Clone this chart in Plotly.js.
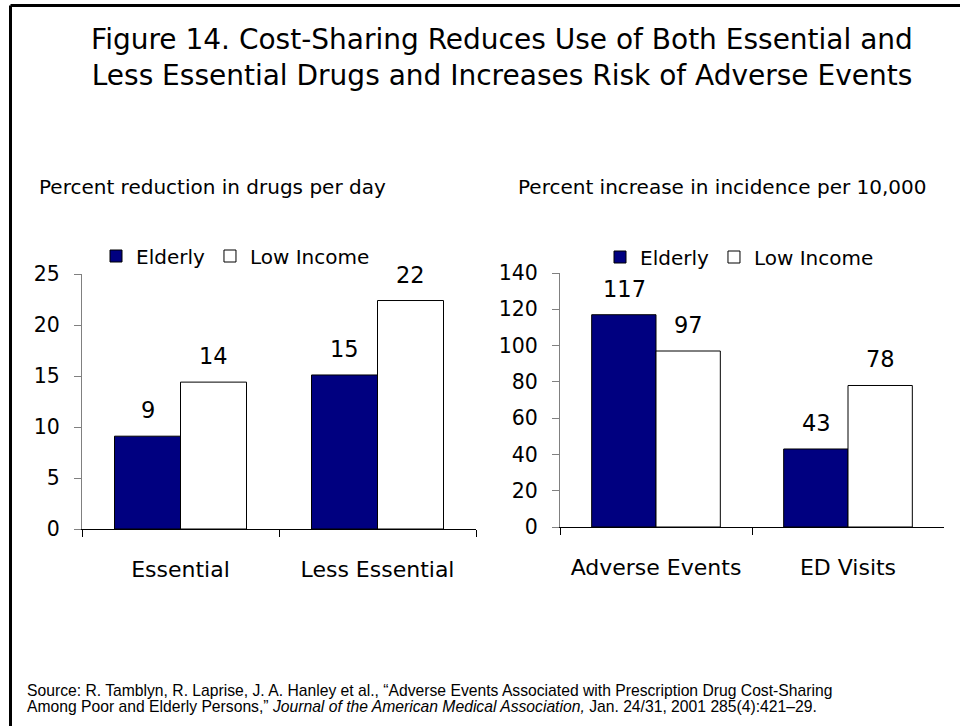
<!DOCTYPE html>
<html>
<head>
<meta charset="utf-8">
<script src="https://cdn.plot.ly/plotly-3.0.1.min.js"></script>
<style>
  html, body { margin: 0; padding: 0; background: #fff; }
  #chart { width: 960px; height: 726px; }
</style>
</head>
<body>
<div id="chart"></div>
<script>
// ---- data ----
const drugCategories = ["Essential", "Less Essential"];
const drugElderly = [9.1, 15.1];
const drugLowIncome = [14.4, 22.4];

const eventCategories = ["Adverse Events", "ED Visits"];
const eventElderly = [117, 43];
const eventLowIncome = [97, 78];

const seriesNames = ["Elderly", "Low Income"];
const titleText = "Figure 14. Cost-Sharing Reduces Use of Both Essential and<br>Less Essential Drugs and Increases Risk of Adverse Events";
const leftSubtitle = "Percent reduction in drugs per day";
const rightSubtitle = "Percent increase in incidence per 10,000";
const sourceLine1 = "Source: R. Tamblyn, R. Laprise, J. A. Hanley et al., \u201cAdverse Events Associated with Prescription Drug Cost-Sharing";
const sourceLine2 = "Among Poor and Elderly Persons,\u201d <i>Journal of the American Medical Association,</i> Jan. 24/31, 2001 285(4):421\u201329.";

// ---- styles ----
const FONT = "DejaVu Sans, Verdana, sans-serif";
const NAVY = "#000080";
const TXT = "#000000";
const AXC = "#808080";

function barTrace(name, cats, vals, color, xa, ya, legendId) {
  return {
    type: "bar", name: name, x: cats, y: vals,
    xaxis: xa, yaxis: ya, legend: legendId, showlegend: true,
    marker: { color: color, line: { color: "#000", width: 1 } },
    hoverinfo: "x+y"
  };
}

const traces = [
  barTrace(seriesNames[0], drugCategories, drugElderly, NAVY, "x", "y", "legend"),
  barTrace(seriesNames[1], drugCategories, drugLowIncome, "#ffffff", "x", "y", "legend"),
  barTrace(seriesNames[0], eventCategories, eventElderly, NAVY, "x2", "y2", "legend2"),
  barTrace(seriesNames[1], eventCategories, eventLowIncome, "#ffffff", "x2", "y2", "legend2")
];

// value labels as annotations positioned through the axes
const annotations = [];
function addLabels(cats, vals, xa, ya, shift) {
  cats.forEach((c, i) => {
    annotations.push({
      x: c, y: vals[i], xref: xa, yref: ya,
      text: String(Math.round(vals[i])), showarrow: false,
      xshift: shift, yshift: 26, yanchor: "middle",
      font: { family: FONT, size: 22.5, color: TXT }
    });
  });
}
addLabels(drugCategories, drugElderly, "x", "y", -33);
addLabels(drugCategories, drugLowIncome, "x", "y", 33);
addLabels(eventCategories, eventElderly, "x2", "y2", -32);
addLabels(eventCategories, eventLowIncome, "x2", "y2", 32);

annotations.push({
  x: 212 / 960, y: 1 - 187 / 726, xref: "paper", yref: "paper",
  text: leftSubtitle, showarrow: false, xanchor: "center", yanchor: "middle",
  font: { family: FONT, size: 20, color: TXT }
});
annotations.push({
  x: 722 / 960, y: 1 - 187 / 726, xref: "paper", yref: "paper",
  text: rightSubtitle, showarrow: false, xanchor: "center", yanchor: "middle",
  font: { family: FONT, size: 20, color: TXT }
});
[sourceLine1, sourceLine2].forEach((t, i) => {
  annotations.push({
    x: 25 / 960, y: 1 - (690 + 16 * i) / 726, xref: "paper", yref: "paper",
    text: t, showarrow: false, xanchor: "left", yanchor: "middle", align: "left",
    font: { family: "Liberation Sans, Arial, sans-serif", size: 15.7, color: TXT }
  });
});

const yAxisCommon = {
  showgrid: false, zeroline: false, showline: true, linecolor: AXC, linewidth: 1,
  ticks: "outside", ticklen: 7, tickcolor: AXC, ticklabelstandoff: 10,
  tickfont: { family: FONT, size: 20.5, color: TXT }, fixedrange: true
};
const xAxisCommon = {
  showgrid: false, zeroline: false, showline: true, linecolor: "#000", linewidth: 1,
  ticks: "outside", tickson: "boundaries", ticklen: 7, tickcolor: "#000",
  ticklabelstandoff: 21,
  tickfont: { family: FONT, size: 22, color: TXT }, fixedrange: true
};

const layout = {
  width: 960, height: 726,
  margin: { l: 0, r: 0, t: 0, b: 0 },
  paper_bgcolor: "#fff", plot_bgcolor: "rgba(0,0,0,0)",
  barmode: "group", bargap: 0.33, bargroupgap: 0,
  title: {
    text: titleText, x: 502 / 960, xanchor: "center", y: 1 - 49 / 726, yanchor: "top",
    font: { family: FONT, size: 28, color: TXT }
  },
  xaxis: Object.assign({}, xAxisCommon, { domain: [82 / 960, 476 / 960], anchor: "y" }),
  yaxis: Object.assign({}, yAxisCommon, { domain: [(726 - 529) / 726, (726 - 274) / 726], range: [0, 25], dtick: 5, anchor: "x" }),
  xaxis2: Object.assign({}, xAxisCommon, { domain: [560 / 960, 944 / 960], anchor: "y2" }),
  yaxis2: Object.assign({}, yAxisCommon, { domain: [(726 - 527) / 726, (726 - 273) / 726], range: [0, 140], dtick: 20, anchor: "x2" }),
  legend: {
    orientation: "h", x: 96 / 960, y: 1 - 256 / 726, xanchor: "left", yanchor: "middle",
    font: { family: FONT, size: 20, color: TXT }, bgcolor: "rgba(0,0,0,0)"
  },
  legend2: {
    orientation: "h", x: 600 / 960, y: 1 - 257 / 726, xanchor: "left", yanchor: "middle",
    font: { family: FONT, size: 20, color: TXT }, bgcolor: "rgba(0,0,0,0)"
  },
  annotations: annotations,
  shapes: [
    { type: "line", xref: "paper", yref: "paper", x0: 10.5 / 960, x1: 1, y0: 1 - 5.5 / 726, y1: 1 - 5.5 / 726, line: { color: "#000", width: 3 } },
    { type: "line", xref: "paper", yref: "paper", x0: 10.5 / 960, x1: 10.5 / 960, y0: 0, y1: 1 - 5.5 / 726, line: { color: "#000", width: 3 } }
  ],
  hovermode: false
};

Plotly.newPlot("chart", traces, layout, { displayModeBar: false, staticPlot: true });
</script>
</body>
</html>
